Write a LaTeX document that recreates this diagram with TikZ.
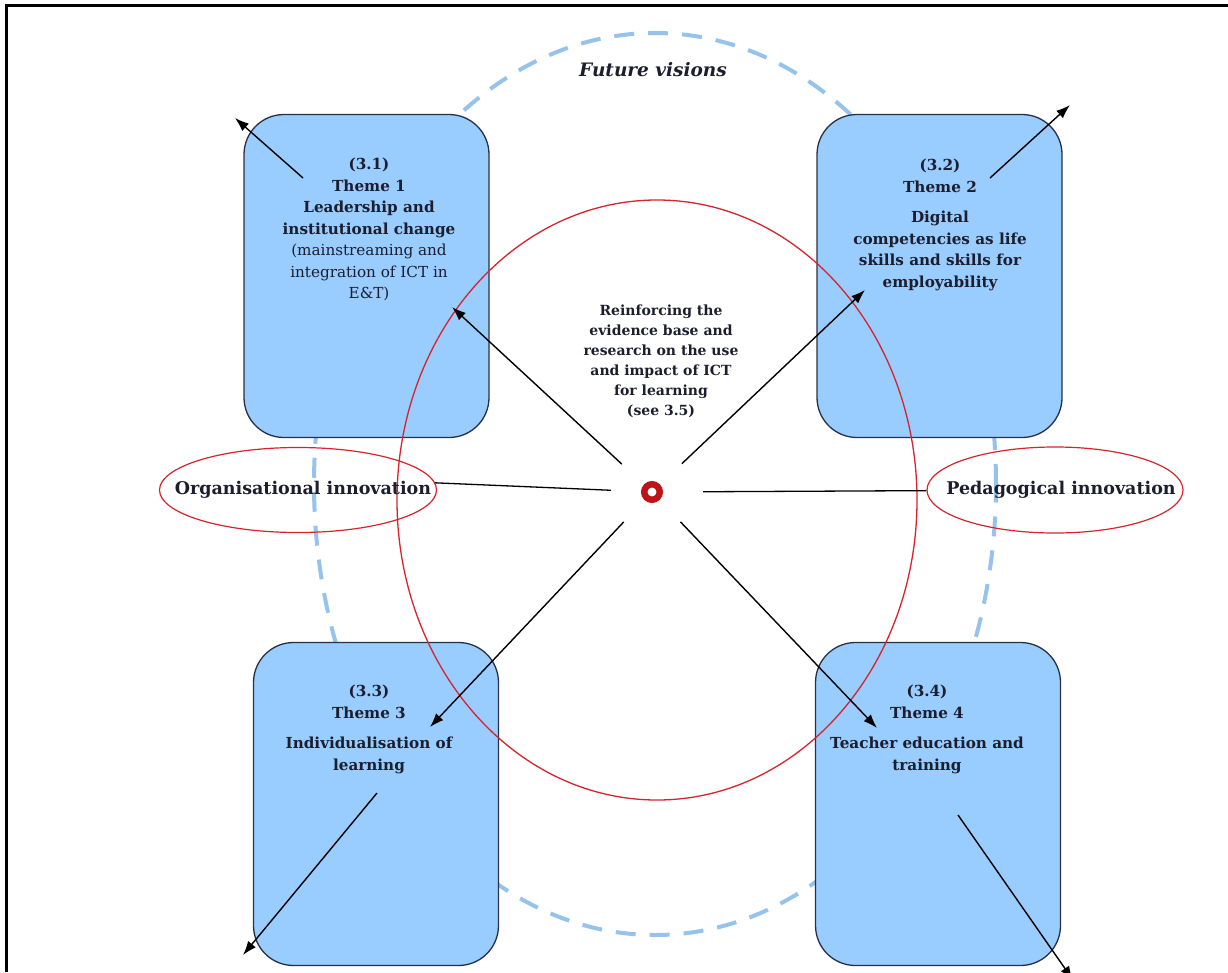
\documentclass[tikz,border=0pt]{standalone}
\usepackage{fontspec}
\setmainfont{DejaVu Serif}
\usepackage{tikz}
\usetikzlibrary{arrows.meta,shapes.geometric}

\definecolor{boxblue}{RGB}{153,204,255}
\definecolor{boxline}{RGB}{40,48,70}
\definecolor{ink}{RGB}{28,30,45}
\definecolor{dashblue}{RGB}{150,195,235}
\definecolor{ringred}{RGB}{215,35,45}
\definecolor{hubred}{RGB}{190,20,25}

\begin{document}
\begin{tikzpicture}[x=1pt,y=-1pt]
        \tikzset{theme/.style = {shape=rectangle,draw=boxline,fill=boxblue,line width=1.3pt,rounded corners=40pt,minimum width=245pt,minimum height=323pt,inner sep=0pt}}
        \tikzset{themetext/.style = {anchor=north,align=center,text=ink,inner sep=0pt,font=\fontsize{15.2}{21.5}\selectfont\bfseries}}
        \tikzset{innov/.style = {shape=ellipse,draw=ringred,line width=1.2pt,inner sep=0pt}}
        \tikzset{innovtext/.style = {text=ink,inner sep=0pt,font=\fontsize{17.5}{20}\selectfont\bfseries}}
        \tikzset{edge/.style = {-{Latex[length=14pt,width=10pt]},line width=1.4pt,black}}
        \tikzset{link/.style = {line width=1.3pt,black}}
        \useasboundingbox (0,0) rectangle (1228,972);
        % frame
        \draw[line width=3pt] (6,972) -- (6,5.5) -- (1228,5.5);
        % future visions ring
        \draw[dashblue, line width=4pt, dash pattern=on 20pt off 14pt] (655,484) ellipse [x radius=341pt, y radius=451pt];
        \node[text=ink, font=\fontsize{18.5}{20}\selectfont\bfseries\itshape] (fv) at (653,70) {Future visions};
        % themes
        \node[theme] (t1) at (366.5,276) {};
        \node[theme] (t2) at (939.5,276) {};
        \node[theme] (t3) at (376,804) {};
        \node[theme] (t4) at (938,804) {};
        \node[themetext] (t1txt) at (369,158) {(3.1)\\Theme 1\\Leadership and\\institutional change\\\mdseries(mainstreaming and\\\mdseries integration of ICT in\\\mdseries E\&T)};
        \node[themetext] (t2txt) at (940,159) {(3.2)\\Theme 2\\[9pt]Digital\\competencies as life\\skills and skills for\\employability};
        \node[themetext] (t3txt) at (369,685) {(3.3)\\Theme 3\\[9pt]Individualisation of\\learning};
        \node[themetext] (t4txt) at (927,685) {(3.4)\\Theme 4\\[9pt]Teacher education and\\training};
        % evidence ring
        \draw[ringred, line width=1.3pt] (657,500) ellipse [x radius=260pt, y radius=300pt];
        \node[themetext, font=\fontsize{14}{20}\selectfont\bfseries] (core) at (661,305) {Reinforcing the\\evidence base and\\research on the use\\and impact of ICT\\for learning\\(see 3.5)};
        % innovations
        \node[innov, minimum width=277pt, minimum height=85pt] (orgi) at (298,490) {};
        \node[innovtext] (orgtxt) at (303,490) {Organisational innovation};
        \node[innov, minimum width=256pt, minimum height=86pt] (pedi) at (1055,490) {};
        \node[innovtext] (pedtxt) at (1061,490) {Pedagogical innovation};
        % hub
        \node[circle, minimum size=82pt, inner sep=0pt] (hubzone) at (652,492) {};
        \node[circle, draw=hubred, fill=white, line width=6.5pt, minimum size=15.5pt, inner sep=0pt] (hub) at (652,492) {};
        \coordinate (a1) at (452,307);
        \coordinate (a2) at (865,290);
        \coordinate (a3) at (430,727);
        \coordinate (a4) at (877,728);
        \coordinate (s1) at (303,178);
        \coordinate (e1) at (235,118);
        \coordinate (s2) at (990,178);
        \coordinate (e2) at (1070,105);
        \coordinate (s3) at (377,793);
        \coordinate (e3) at (243,955);
        \coordinate (s4) at (958,815);
        \coordinate (e4) at (1073,980);
        %edges
        \draw[link] (hubzone) -- (orgi.3);
        \draw[link, shorten <=10pt] (hubzone) -- (pedi);
        \draw[edge] (hubzone) -- (a1);
        \draw[edge] (hubzone) -- (a2);
        \draw[edge] (hubzone) -- (a3);
        \draw[edge] (hubzone) -- (a4);
        \draw[edge] (s1) -- (e1);
        \draw[edge] (s2) -- (e2);
        \draw[edge] (s3) -- (e3);
        \draw[edge] (s4) -- (e4);
\end{tikzpicture}
\end{document}
